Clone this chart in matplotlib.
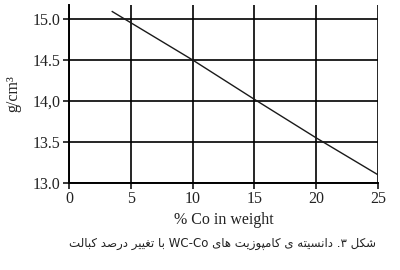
import matplotlib
matplotlib.use("Agg")
import matplotlib.pyplot as plt

# ---- data ----
co_percent = [3.5, 10, 15, 20, 25]
density = [15.09, 14.5, 14.02, 13.55, 13.1]
x_ticks = [0, 5, 10, 15, 20, 25]
y_ticks = [13.0, 13.5, 14.0, 14.5, 15.0]
y_tick_labels = ["13.0", "13.5", "14,0", "14.5", "15.0"]
x_label = "% Co in weight"
y_label = "g/cm³"
caption = "شکل ۳. دانسیته ی کامپوزیت های WC-Co با تغییر درصد کبالت"

# ---- minimal Persian shaping (presentation forms, visual order) ----
FORMS = {
    'ا': ('\uFE8D', '\uFE8E', None, None),
    'ب': ('\uFE8F', '\uFE90', '\uFE91', '\uFE92'),
    'پ': ('\uFB56', '\uFB57', '\uFB58', '\uFB59'),
    'ت': ('\uFE95', '\uFE96', '\uFE97', '\uFE98'),
    'د': ('\uFEA9', '\uFEAA', None, None),
    'ر': ('\uFEAD', '\uFEAE', None, None),
    'ز': ('\uFEAF', '\uFEB0', None, None),
    'س': ('\uFEB1', '\uFEB2', '\uFEB3', '\uFEB4'),
    'ش': ('\uFEB5', '\uFEB6', '\uFEB7', '\uFEB8'),
    'ص': ('\uFEB9', '\uFEBA', '\uFEBB', '\uFEBC'),
    'ع': ('\uFEC9', '\uFECA', '\uFECB', '\uFECC'),
    'غ': ('\uFECD', '\uFECE', '\uFECF', '\uFED0'),
    'ق': ('\uFED5', '\uFED6', '\uFED7', '\uFED8'),
    'ک': ('\uFB8E', '\uFB8F', '\uFB90', '\uFB91'),
    'ل': ('\uFEDD', '\uFEDE', '\uFEDF', '\uFEE0'),
    'م': ('\uFEE1', '\uFEE2', '\uFEE3', '\uFEE4'),
    'ن': ('\uFEE5', '\uFEE6', '\uFEE7', '\uFEE8'),
    'ه': ('\uFEE9', '\uFEEA', '\uFEEB', '\uFEEC'),
    'و': ('\uFEED', '\uFEEE', None, None),
    'ی': ('\uFEEF', '\uFEF0', '\uFEF3', '\uFEF4'),
}


def is_dual(c):
    return c in FORMS and FORMS[c][2] is not None


def shape_word(w):
    out = []
    n = len(w)
    for i, ch in enumerate(w):
        if ch not in FORMS:
            out.append(ch)
            continue
        prev_c = i > 0 and is_dual(w[i - 1])
        next_c = is_dual(ch) and i < n - 1 and w[i + 1] in FORMS
        f = FORMS[ch]
        if prev_c and next_c:
            out.append(f[3])
        elif prev_c:
            out.append(f[1])
        elif next_c:
            out.append(f[2])
        else:
            out.append(f[0])
    return out


def visual(text):
    words = text.split(" ")
    vis = []
    for w in reversed(words):
        if any(c in FORMS or c in "۰۱۲۳۴۵۶۷۸۹" for c in w):
            vis.append("".join(reversed(shape_word(w))))
        else:
            vis.append(w)
    return " ".join(vis)


# ---- figure ----
fig = plt.figure(figsize=(4.0, 2.7), dpi=100)
ax = fig.add_axes([69 / 400, 1 - 183 / 270, (378 - 69) / 400, (183 - 5) / 270])

ax.plot(co_percent, density, color="#1a1a1a", lw=1.0)

ax.set_xlim(0, 25)
ax.set_ylim(13.0, 15.17)
ax.set_xticks(x_ticks)
ax.set_yticks(y_ticks)
ax.set_yticklabels(y_tick_labels)
ax.grid(True, color="black", lw=1.2)
ax.set_axisbelow(True)
for s in ["top", "right"]:
    ax.spines[s].set_visible(False)
for s in ["left", "bottom"]:
    ax.spines[s].set_linewidth(1.4)
ax.tick_params(direction="out", length=4, width=1.1, labelsize=11.5, pad=2)
for lab in ax.get_xticklabels() + ax.get_yticklabels():
    lab.set_fontfamily("Liberation Serif")
    lab.set_color("#222222")

ax.set_xlabel(x_label, fontsize=11.5, family="Liberation Serif", labelpad=3, color="#222222")
ax.set_ylabel(y_label, fontsize=11.5, family="Liberation Serif", labelpad=8, color="#222222")

fig.text(222 / 400, 1 - 243 / 270, visual(caption), ha="center", va="center",
         fontsize=8.5, family=["DejaVu Sans"], color="#222222")

fig.savefig("out.png", dpi=100)
